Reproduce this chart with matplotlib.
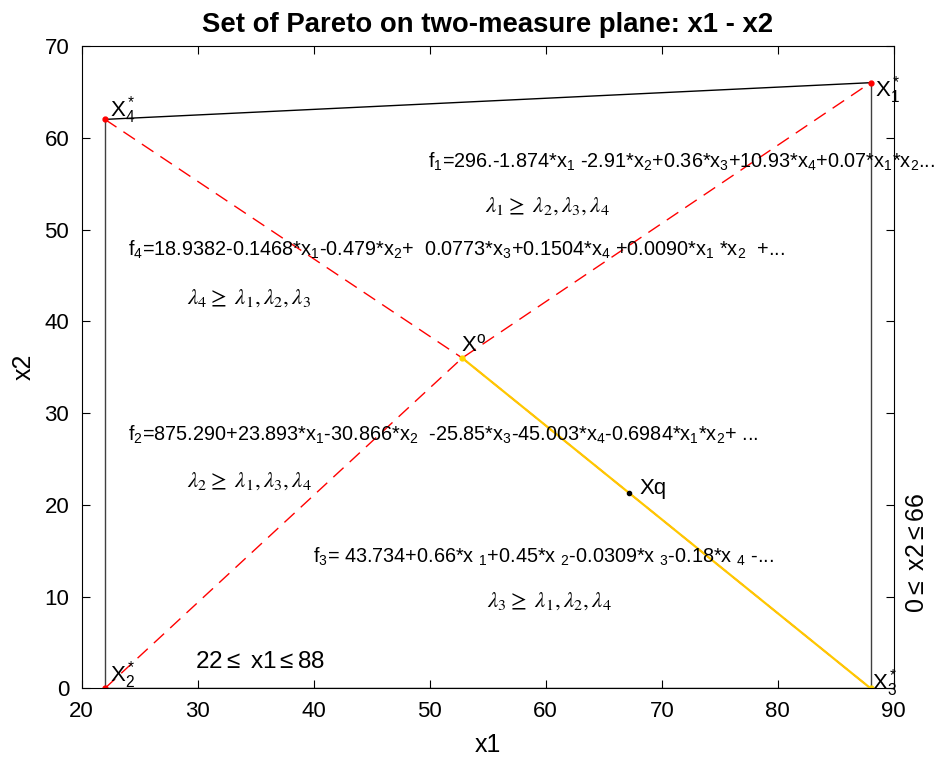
import matplotlib
matplotlib.use("Agg")
from matplotlib import pyplot as plt

plt.rcParams['font.family'] = ['Liberation Sans', 'DejaVu Sans']
plt.rcParams['mathtext.fontset'] = 'custom'
plt.rcParams['mathtext.rm'] = 'Liberation Sans'
plt.rcParams['mathtext.it'] = 'Liberation Sans'
plt.rcParams['mathtext.sf'] = 'Liberation Sans'

# corner points of the Pareto set and special points
x_star = [88, 22, 88, 22]      # X1*, X2*, X3*, X4*
y_star = [66, 0, 0, 62]
x_o, y_o = 52.8, 36.0          # X°
x_q, y_q = 67.2, 21.3          # Xq

x_ticks = [20, 30, 40, 50, 60, 70, 80, 90]
y_ticks = [0, 10, 20, 30, 40, 50, 60, 70]

f_texts = [
    r"f$_1$=296.-1.874*x$_1$ -2.91*x$_2$+0.36*x$_3$+10.93*x$_4$+0.07*x$_1$*x$_2$...",
    r"f$_4$=18.9382-0.1468*x$_1$-0.479*x$_2$+  0.0773*x$_3$+0.1504*x$_4$ +0.0090*x$_1$ *x$_2$  +...",
    r"f$_2$=875.290+23.893*x$_1$-30.866*x$_2$  -25.85*x$_3$-45.003*x$_4$-0.6984*x$_1$*x$_2$+ ...",
    r"f$_3$= 43.734+0.66*x $_1$+0.45*x $_2$-0.0309*x $_3$-0.18*x $_4$ -...",
]
f_pos = [(49.85, 57.4), (24.0, 47.8), (24.0, 27.6), (39.9, 14.3)]

lam_texts = [
    r"$\lambda_1\geq\ \lambda_2,\lambda_3,\lambda_4$",
    r"$\lambda_4\geq\ \lambda_1,\lambda_2,\lambda_3$",
    r"$\lambda_2\geq\ \lambda_1,\lambda_3,\lambda_4$",
    r"$\lambda_3\geq\ \lambda_1,\lambda_2,\lambda_4$",
]
lam_pos = [(54.8, 52.6), (29.1, 42.6), (29.1, 22.7), (54.9, 9.6)]

fig = plt.figure(figsize=(9.35, 7.6), dpi=100)
ax = fig.add_axes([0.0874, 0.0943, 0.8685, 0.8452])

# boundary of the set
ax.plot([x_star[1], x_star[3]], [y_star[1], y_star[3]], color="#404040", lw=1)
ax.plot([x_star[0], x_star[2]], [y_star[0], y_star[2]], color="#404040", lw=1)
ax.plot([x_star[3], x_star[0]], [y_star[3], y_star[0]], color="black", lw=1)
ax.plot([x_star[1], x_star[2]], [y_star[1], y_star[2]], color="black", lw=1)

# dashed red lines through X°
ax.plot([x_star[1], x_o, x_star[0]], [y_star[1], y_o, y_star[0]], color="red", lw=1, dashes=(10, 6))
ax.plot([x_star[3], x_o, x_star[2]], [y_star[3], y_o, y_star[2]], color="red", lw=1, dashes=(10, 6))
ax.plot([x_o, x_star[2]], [y_o, y_star[2]], color="#FFC800", lw=1.6)

ax.plot([x_star[0], x_star[1], x_star[3]], [y_star[0], y_star[1], y_star[3]], "o", color="red", ms=3.5)
ax.plot([x_o, x_star[2]], [y_o, y_star[2]], "o", color="#FFD700", ms=3.5)
ax.plot([x_q], [y_q], "o", color="black", ms=3)

# point labels
ax.text(88.4, 65.2, r"X$_1^*$", fontsize=16, va="center")
ax.text(22.4, 1.5, r"X$_2^*$", fontsize=16, va="center")
ax.text(88.1, 0.6, r"X$_3^*$", fontsize=16, va="center")
ax.text(22.4, 63.0, r"X$_4^*$", fontsize=16, va="center")
ax.text(52.7, 37.4, r"X$^{\mathrm{o}}$", fontsize=16, va="center")
ax.text(68.1, 21.8, "Xq", fontsize=16, va="center")

for t, (px, py) in zip(f_texts, f_pos):
    ax.text(px, py, t, fontsize=14.3, va="center", clip_on=False)
for t, (px, py) in zip(lam_texts, lam_pos):
    ax.text(px, py, t, fontsize=16.5, va="center", math_fontfamily="stix")

ax.text(29.8, 2.9, r"22$\leq$ x1$\leq$88", fontsize=17.5, va="center")
ax.text(92.0, 14.8, r"0$\leq$ x2$\leq$66", fontsize=18, va="center", ha="center",
        rotation=90, clip_on=False)

ax.set_xlim(20, 90)
ax.set_ylim(0, 70)
ax.set_xticks(x_ticks)
ax.set_yticks(y_ticks)
ax.tick_params(direction="in", top=True, right=True, labelsize=16, length=6, pad=9)
for s in ax.spines.values():
    s.set_linewidth(0.8)
ax.set_xlabel("x1", fontsize=18, labelpad=8)
ax.set_ylabel("x2", fontsize=18, labelpad=6)
ax.set_title("Set of Pareto on two-measure plane: x1 - x2", fontsize=19.8,
             fontweight="bold", pad=10)

fig.savefig("out.png", dpi=100)
